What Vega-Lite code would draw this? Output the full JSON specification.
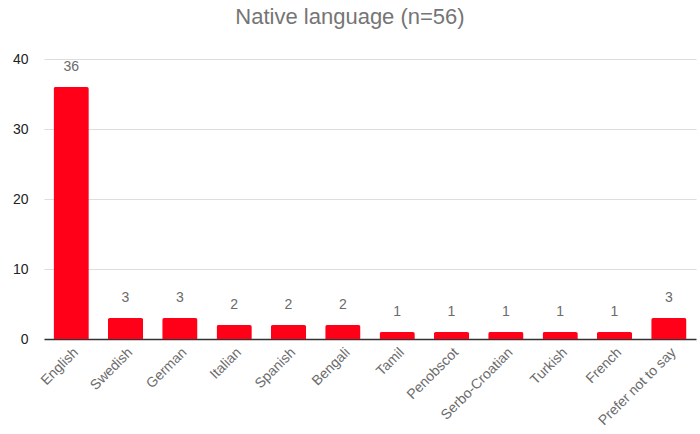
{
  "$schema": "https://vega.github.io/schema/vega-lite/v6.json",
  "autosize": "none",
  "width": 652,
  "height": 280,
  "padding": {"left": 44, "top": 59, "right": 4, "bottom": 95},
  "background": "white",
  "config": {"view": {"stroke": null}},
  "title": {"text": "Native language (n=56)", "fontSize": 22, "font": "Liberation Sans", "fontWeight": "normal", "color": "#757575", "offset": 23, "dx": -20},
  "data": {"values": [
    {"lang": "English", "n": 36},
    {"lang": "Swedish", "n": 3},
    {"lang": "German", "n": 3},
    {"lang": "Italian", "n": 2},
    {"lang": "Spanish", "n": 2},
    {"lang": "Bengali", "n": 2},
    {"lang": "Tamil", "n": 1},
    {"lang": "Penobscot", "n": 1},
    {"lang": "Serbo-Croatian", "n": 1},
    {"lang": "Turkish", "n": 1},
    {"lang": "French", "n": 1},
    {"lang": "Prefer not to say", "n": 3}
  ]},
  "encoding": {
    "x": {"field": "lang", "type": "nominal", "sort": null, "title": null,
      "scale": {"paddingInner": 0.35, "paddingOuter": 0.175},
      "axis": {"labelAngle": -45, "labelAlign": "right", "labelBaseline": "top", "labelFontSize": 14, "labelFont": "Liberation Sans", "labelColor": "#6b6b6b", "ticks": false, "labelPadding": 6, "domainColor": "#333333", "domainWidth": 1.5}},
    "y": {"field": "n", "type": "quantitative", "title": null,
      "scale": {"domain": [0, 40]},
      "axis": {"values": [0, 10, 20, 30, 40], "domain": false, "ticks": false, "labelFontSize": 14, "labelFont": "Liberation Sans", "labelColor": "#222222", "labelPadding": 16, "gridColor": "#dddddd"}}
  },
  "layer": [
    {"mark": {"type": "bar", "color": "#ff0018", "cornerRadiusTopLeft": 2, "cornerRadiusTopRight": 2}},
    {"mark": {"type": "text", "dy": -13, "fontSize": 14, "font": "Liberation Sans", "color": "#6b6b6b", "baseline": "bottom"},
     "encoding": {"text": {"field": "n", "type": "quantitative"}}}
  ]
}
